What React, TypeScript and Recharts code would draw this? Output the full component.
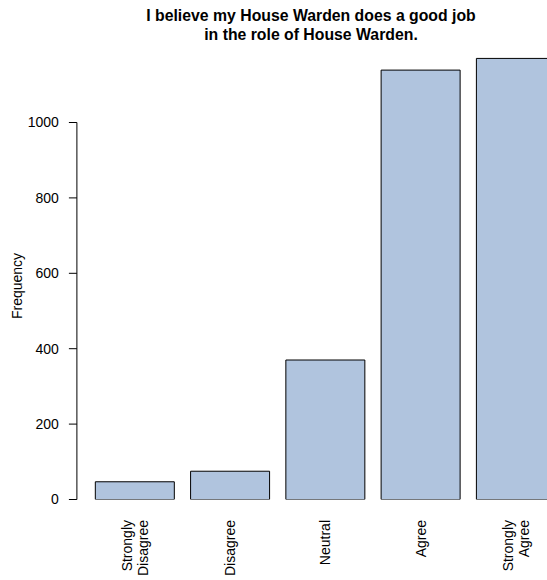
import { Bar, BarChart, ReferenceLine, XAxis, YAxis } from "recharts";

const categories = ["Strongly Disagree", "Disagree", "Neutral", "Agree", "Strongly Agree"];
const labelLines = [["Strongly", "Disagree"], ["Disagree"], ["Neutral"], ["Agree"], ["Strongly", "Agree"]];
const frequencies = [47, 75, 370, 1139, 1170];
const yTicks = [0, 200, 400, 600, 800, 1000];

const titleLines = ["I believe my House Warden does a good job", "in the role of House Warden."];

// barplot-style x positions: bar width 1, space 0.2
const positions = categories.map((_, i) => 0.7 + i * 1.2);
const xMin = -0.032;
const xMax = 6.232;

const data = categories.map((name, i) => ({
  name,
  pos: positions[i],
  count: frequencies[i],
}));

const font = "'Liberation Sans', Arial, Helvetica, sans-serif";

const CategoryTick = (props: any) => {
  const { x, y, index } = props;
  const lines = labelLines[index] || [];
  return (
    <g transform={`translate(${x},${y + 20.5}) rotate(-90)`}>
      {lines.map((ln, i) => (
        <text
          key={ln + i}
          x={0}
          y={(i - (lines.length - 1) / 2) * 15.5}
          dy="0.35em"
          textAnchor="end"
          fontSize={14}
          fontFamily={font}
          fill="#000"
        >
          {ln}
        </text>
      ))}
    </g>
  );
};

const App = () => {
  return (
    <div
      style={{
        position: "absolute",
        left: 0,
        top: 0,
        width: 547,
        height: 580,
        overflow: "hidden",
        background: "#fff",
      }}
    >
      <BarChart
        width={600}
        height={580}
        data={data}
        barCategoryGap="8.333%"
        margin={{ top: 47.1, right: 25.8, bottom: 0, left: 0 }}
      >
        <XAxis
          type="number"
          dataKey="pos"
          domain={[xMin, xMax]}
          allowDataOverflow
          ticks={positions}
          interval={0}
          height={80.5}
          axisLine={false}
          tickLine={false}
          tickSize={0}
          tickMargin={0}
          tick={<CategoryTick />}
        />
        <YAxis
          type="number"
          domain={[0, 1200]}
          allowDataOverflow
          ticks={yTicks}
          interval={0}
          width={76.9}
          axisLine={false}
          tickLine={{ stroke: "#000" }}
          tickSize={8}
          tickMargin={10}
          tick={{ fill: "#000", fontSize: 14, fontFamily: font }}
        />
        <ReferenceLine
          segment={[
            { x: xMin, y: 0 },
            { x: xMin, y: 1000 },
          ]}
          stroke="#000"
          strokeWidth={1}
        />
        <Bar
          dataKey="count"
          fill="#B0C4DE"
          stroke="#000"
          strokeWidth={1}
          isAnimationActive={false}
        />
      </BarChart>
      <svg
        width={547}
        height={580}
        style={{ position: "absolute", left: 0, top: 0, pointerEvents: "none" }}
      >
        {titleLines.map((t, i) => (
          <text
            key={t}
            x={311}
            y={20.5 + i * 19.5}
            textAnchor="middle"
            fontSize={15.8}
            fontWeight="bold"
            fontFamily={font}
            fill="#000"
          >
            {t}
          </text>
        ))}
        <text
          x={0}
          y={0}
          transform="translate(22,286) rotate(-90)"
          textAnchor="middle"
          fontSize={14}
          fontFamily={font}
          fill="#000"
        >
          Frequency
        </text>
      </svg>
    </div>
  );
};

export default App;
